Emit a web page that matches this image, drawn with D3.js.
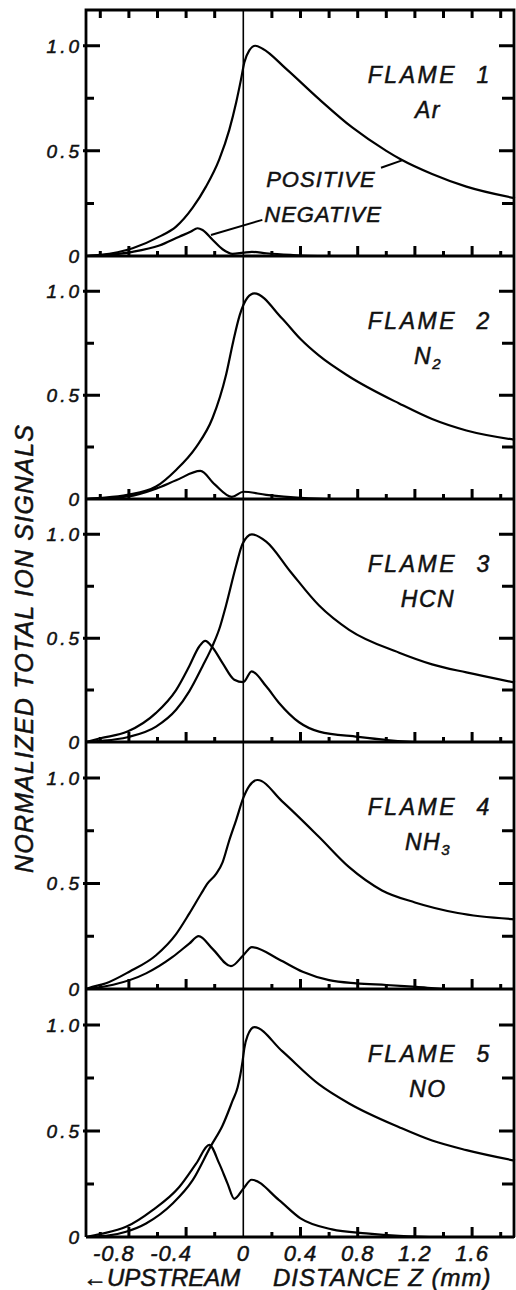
<!DOCTYPE html>
<html>
<head>
<meta charset="utf-8">
<script src="https://cdn.jsdelivr.net/npm/d3@7"></script>
<style>
  body { margin: 0; background: #fff; }
  svg text { font-family: "Liberation Sans", Arial, sans-serif; font-style: italic; fill: #111; stroke: #111; stroke-width: 0.5px; }
</style>
</head>
<body>
<div id="chart"></div>
<script>
// Curve samples: [z (mm), normalized signal]
var flame1Positive = [[-1.1,0],[-1.0,0.005],[-0.774,0.037],[-0.587,0.092],[-0.47,0.14],[-0.354,0.23],[-0.261,0.33],[-0.168,0.46],[-0.098,0.60],[-0.05,0.73],[-0.016,0.84],[0.007,0.92],[0.042,0.978],[0.084,1.0],[0.135,0.986],[0.30,0.89],[0.53,0.746],[0.764,0.61],[1.0,0.50],[1.1,0.46],[1.32,0.39],[1.56,0.33],[1.9,0.275]];
var flame1Negative = [[-1.1,0],[-1.0,0.003],[-0.774,0.02],[-0.587,0.05],[-0.448,0.092],[-0.366,0.116],[-0.32,0.132],[-0.285,0.124],[-0.215,0.077],[-0.145,0.032],[-0.075,0.01],[0,0.016],[0.06,0.02],[0.16,0.013],[0.33,0.005],[0.52,0],[1.9,0]];

var flame2Positive = [[-1.1,0],[-1.0,0.005],[-0.81,0.02],[-0.61,0.06],[-0.47,0.14],[-0.33,0.25],[-0.215,0.39],[-0.12,0.6],[-0.07,0.76],[-0.025,0.885],[0.03,0.97],[0.077,0.99],[0.27,0.87],[0.4,0.77],[0.53,0.69],[0.74,0.59],[1.09,0.46],[1.32,0.385],[1.56,0.33],[1.9,0.285]];
var flame2Negative = [[-1.1,0],[-1.0,0.003],[-0.81,0.012],[-0.61,0.05],[-0.47,0.09],[-0.3,0.135],[-0.2,0.07],[-0.08,0.01],[0,0.035],[0.16,0.02],[0.4,0.005],[0.6,0],[1.9,0]];

var flame3Positive = [[-1.1,0],[-1.0,0.005],[-0.81,0.023],[-0.61,0.074],[-0.47,0.155],[-0.378,0.244],[-0.285,0.365],[-0.215,0.463],[-0.168,0.544],[-0.12,0.66],[-0.05,0.85],[-0.005,0.955],[0.06,1.0],[0.16,0.965],[0.33,0.82],[0.53,0.657],[0.74,0.54],[1.09,0.43],[1.32,0.374],[1.56,0.335],[1.9,0.286]];
var flame3Negative = [[-1.1,0],[-1.0,0.018],[-0.81,0.05],[-0.61,0.14],[-0.47,0.25],[-0.378,0.365],[-0.308,0.46],[-0.266,0.487],[-0.215,0.455],[-0.145,0.38],[-0.063,0.30],[0,0.288],[0.058,0.34],[0.16,0.268],[0.25,0.188],[0.39,0.095],[0.53,0.05],[0.8,0.025],[1.0,0.01],[1.25,0],[1.9,0]];

var flame4Positive = [[-1.1,0],[-1.08,0.005],[-0.96,0.027],[-0.797,0.082],[-0.61,0.16],[-0.47,0.26],[-0.378,0.357],[-0.296,0.45],[-0.25,0.50],[-0.19,0.545],[-0.145,0.60],[-0.1,0.70],[-0.05,0.80],[0,0.905],[0.04,0.96],[0.1,0.99],[0.27,0.89],[0.53,0.72],[0.74,0.577],[0.97,0.467],[1.2,0.41],[1.5,0.36],[1.9,0.33]];
var flame4Negative = [[-1.1,0],[-0.91,0.02],[-0.68,0.074],[-0.494,0.152],[-0.378,0.215],[-0.312,0.25],[-0.215,0.19],[-0.086,0.108],[0,0.16],[0.06,0.198],[0.25,0.14],[0.415,0.082],[0.6,0.042],[0.79,0.027],[1.0,0.019],[1.21,0.01],[1.45,0],[1.9,0]];

var flame5Positive = [[-1.1,0],[-0.96,0.005],[-0.82,0.025],[-0.68,0.064],[-0.494,0.158],[-0.354,0.268],[-0.226,0.43],[-0.145,0.526],[-0.075,0.643],[-0.04,0.705],[-0.005,0.83],[0.007,0.89],[0.03,0.95],[0.077,0.99],[0.27,0.878],[0.53,0.72],[0.74,0.63],[1.09,0.518],[1.32,0.455],[1.56,0.41],[1.9,0.36]];
var flame5Negative = [[-1.1,0],[-1.0,0.014],[-0.82,0.048],[-0.634,0.127],[-0.448,0.236],[-0.33,0.346],[-0.238,0.435],[-0.168,0.346],[-0.11,0.252],[-0.063,0.18],[0,0.228],[0.058,0.27],[0.25,0.174],[0.4,0.088],[0.62,0.036],[0.86,0.017],[1.09,0.005],[1.3,0],[1.9,0]];

var flameNumbers = ["1", "2", "3", "4", "5"];
var speciesBase = ["Ar", "N", "HCN", "NH", "NO"];
var speciesSub = ["", "2", "", "3", ""];

var yMajorTicks = [0.5, 1.0];
var yLabelValues = [0, 0.5, 1.0];
var yTickLabels = ["0", "0.5", "1.0"];
var yMinorTicks = [0.25, 0.75];
var xMajorTicks = [-0.8, -0.4, 0.4, 0.8, 1.2, 1.6];
var xLabelValues = [-0.8, -0.4, 0, 0.4, 0.8, 1.2, 1.6];
var xTickLabels = ["-0.8", "-0.4", "0", "0.4", "0.8", "1.2", "1.6"];
var xMinorTicks = [-1.0, -0.6, -0.2, 0.2, 0.6, 1.0, 1.4, 1.8];

// Leader lines for the curve names in flame 1
var positiveLeader = [[0.963, 0.42], [1.11, 0.455]];
var negativeLeader = [[0.133, 0.172], [-0.226, 0.10]];

var panels = [
    [flame1Positive, flame1Negative],
    [flame2Positive, flame2Negative],
    [flame3Positive, flame3Negative],
    [flame4Positive, flame4Negative],
    [flame5Positive, flame5Negative]
];

// Layout
var width = 516, height = 1290;
var left = 86, right = 514;
var bounds = [10, 256, 499, 742, 989, 1237];
var ink = "#000";

var svg = d3.select("#chart")
    .append("svg")
    .attr("width", width)
    .attr("height", height);

svg.append("rect").attr("width", width).attr("height", height).attr("fill", "#fff");

var x = d3.scaleLinear()
    .domain([-1.1, 1.9])
    .range([86, 515]);

// Tick marks drawn from scale positions, one path per set
function vTicks(values, yBase, len) {
    svg.append("path")
        .attr("fill", "none")
        .attr("stroke", ink)
        .attr("stroke-width", 3)
        .attr("d", values.map(function(d) {
            return "M" + x(d) + "," + yBase + "V" + (yBase + len);
        }).join(""));
}
function hTicks(values, y, xFrom, xTo) {
    svg.append("path")
        .attr("fill", "none")
        .attr("stroke", ink)
        .attr("stroke-width", 3)
        .attr("d", values.map(function(d) {
            return "M" + xFrom + "," + y(d) + "H" + xTo;
        }).join(""));
}

panels.forEach(function(series, i) {
    var top = bounds[i], bottom = bounds[i + 1];
    var y = d3.scaleLinear()
        .domain([0, 1.17])
        .range([bottom, top]);

    var line = d3.line()
        .x(function(d) { return x(d[0]); })
        .y(function(d) { return y(d[1]); })
        .curve(d3.curveMonotoneX);

    // Curves
    series.forEach(function(s) {
        svg.append("path")
            .datum(s)
            .attr("fill", "none")
            .attr("stroke", ink)
            .attr("stroke-width", 2.2)
            .attr("stroke-linejoin", "round")
            .attr("d", line);
    });

    // Left and right ticks
    hTicks(yMajorTicks, y, left - 3, left + 14);
    hTicks(yMinorTicks, y, left, left + 8);
    hTicks(yMajorTicks, y, right - 15, right);
    hTicks(yMinorTicks, y, right - 12, right);

    // Y labels
    svg.append("g").selectAll("text")
        .data(yLabelValues)
        .join("text")
        .attr("x", 82)
        .attr("y", function(d) { return y(d); })
        .attr("dy", "0.36em")
        .attr("text-anchor", "end")
        .attr("font-size", 19)
        .attr("letter-spacing", 3)
        .text(function(d, k) { return yTickLabels[k]; });

    // Ticks on the zero line pointing up
    vTicks(xMajorTicks, bottom, -10);
    vTicks(xMinorTicks, bottom, -5);

    // Zero line
    svg.append("line")
        .attr("x1", left).attr("x2", right)
        .attr("y1", bottom).attr("y2", bottom)
        .attr("stroke", ink).attr("stroke-width", 2.8);

    // Panel labels
    svg.append("text")
        .attr("x", 457)
        .attr("y", top + 73)
        .attr("text-anchor", "end")
        .attr("font-size", 23)
        .attr("letter-spacing", 2.5)
        .text("FLAME");
    svg.append("text")
        .attr("x", 483)
        .attr("y", top + 73)
        .attr("text-anchor", "middle")
        .attr("font-size", 23)
        .text(flameNumbers[i]);

    var sp = svg.append("text")
        .attr("x", 428)
        .attr("y", top + 108)
        .attr("text-anchor", "middle")
        .attr("font-size", 23)
        .attr("letter-spacing", 1.5);
    sp.append("tspan").text(speciesBase[i]);
    if (speciesSub[i]) {
        sp.append("tspan").attr("font-size", 15).attr("dy", 5).text(speciesSub[i]);
    }

    // Curve names in flame 1
    if (i === 0) {
        var lead = d3.line()
            .x(function(d) { return x(d[0]); })
            .y(function(d) { return y(d[1]); });
        [positiveLeader, negativeLeader].forEach(function(l) {
            svg.append("path")
                .datum(l)
                .attr("fill", "none")
                .attr("stroke", ink)
                .attr("stroke-width", 2)
                .attr("d", lead);
        });
        svg.append("text")
            .attr("x", x(0.16))
            .attr("y", y(0.33))
            .attr("font-size", 22)
            .attr("letter-spacing", 1)
            .text("POSITIVE");
        svg.append("text")
            .attr("x", x(0.147))
            .attr("y", y(0.163))
            .attr("font-size", 22)
            .attr("letter-spacing", 1)
            .text("NEGATIVE");
    }
});

// Top ticks of the first panel
vTicks(xMajorTicks.concat(xMinorTicks), bounds[0], 8);

// Frame
svg.append("path")
    .attr("fill", "none")
    .attr("stroke", ink)
    .attr("stroke-width", 2.8)
    .attr("d", "M" + left + "," + bounds[5] + "V" + bounds[0] + "H" + right + "V" + bounds[5]);

// Vertical line at z = 0
svg.append("line")
    .attr("x1", x(0)).attr("x2", x(0))
    .attr("y1", bounds[0]).attr("y2", bounds[5])
    .attr("stroke", ink).attr("stroke-width", 1.6);

// Bottom tick labels
svg.append("g").selectAll("text")
    .data(xLabelValues)
    .join("text")
    .attr("x", function(d) { return x(d) + (d < 0 ? -15 : 0); })
    .attr("y", 1261)
    .attr("text-anchor", "middle")
    .attr("font-size", 22)
    .attr("letter-spacing", 1)
    .text(function(d, k) { return xTickLabels[k]; });

// Axis titles
svg.append("text")
    .attr("x", 83)
    .attr("y", 1286)
    .attr("font-size", 24)
    .text("\u2190UPSTREAM");
svg.append("text")
    .attr("x", 273)
    .attr("y", 1286)
    .attr("font-size", 24)
    .attr("letter-spacing", 1)
    .text("DISTANCE Z (mm)");

svg.append("text")
    .attr("transform", "translate(33,649) rotate(-90)")
    .attr("text-anchor", "middle")
    .attr("font-size", 25)
    .attr("textLength", 448)
    .attr("lengthAdjust", "spacing")
    .text("NORMALIZED TOTAL ION SIGNALS");
</script>
</body>
</html>
